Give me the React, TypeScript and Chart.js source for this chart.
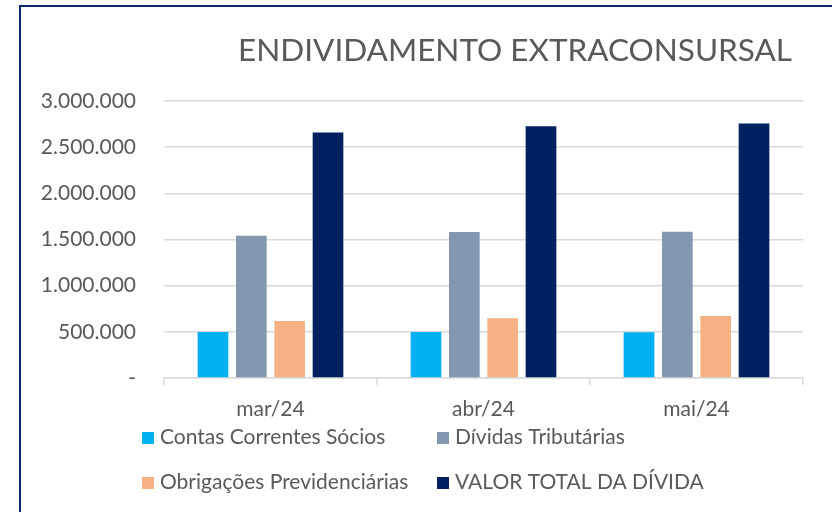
import React, { useEffect, useRef } from 'react';
import { Chart, registerables } from 'chart.js';

Chart.register(...registerables);

const chartTitle = 'ENDIVIDAMENTO EXTRACONSURSAL';
const categories = ['mar/24', 'abr/24', 'mai/24'];
const seriesNames = [
  'Contas Correntes Sócios',
  'Dívidas Tributárias',
  'Obrigações Previdenciárias',
  'VALOR TOTAL DA DÍVIDA',
];
const contasCorrentes = [498000, 498000, 495000];
const dividasTributarias = [1540000, 1581000, 1585000];
const obrigacoesPrevidenciarias = [617000, 646000, 671000];
const valorTotal = [2660000, 2727000, 2756000];
const seriesColors = ['#00B0F0', '#8497B0', '#F4B183', '#002060'];
const yMin = 0;
const yMax = 3000000;
const yStep = 500000;

const FONT = 'Lato, "Open Sans", sans-serif';
const TEXT = '#595959';
const GRID = '#D9D9D9';

function fmt(v: number): string {
  if (v === 0) return '-';
  return String(Math.round(v)).replace(/\B(?=(\d{3})+(?!\d))/g, '.');
}

const overlayPlugin = {
  id: 'overlay',
  afterDraw(chart: any) {
    const { ctx, chartArea } = chart;
    ctx.save();
    ctx.fillStyle = TEXT;
    ctx.font = `31.5px ${FONT}`;
    ctx.textAlign = 'right';
    ctx.textBaseline = 'alphabetic';
    ctx.fillText(chartTitle, chartArea.right - 11, 61);

    ctx.font = `21px ${FONT}`;
    ctx.textAlign = 'left';
    const colX = [chartArea.left - 22, chartArea.left + 273];
    const rowY = [chartArea.bottom + 66, chartArea.bottom + 111];
    chart.data.datasets.forEach((ds: any, i: number) => {
      const x = colX[i % 2];
      const y = rowY[Math.floor(i / 2)];
      ctx.fillStyle = ds.backgroundColor;
      ctx.fillRect(x, y - 12, 12, 12);
      ctx.fillStyle = TEXT;
      ctx.fillText(ds.label, x + 18, y);
    });
    ctx.restore();
  },
};

export default function App() {
  const ref = useRef<HTMLCanvasElement | null>(null);

  useEffect(() => {
    document.body.style.margin = '0';
    if (!ref.current) return;
    Chart.defaults.font.family = FONT;
    const values = [contasCorrentes, dividasTributarias, obrigacoesPrevidenciarias, valorTotal];
    const chart = new Chart(ref.current, {
      type: 'bar',
      data: {
        labels: categories,
        datasets: values.map((d, i) => ({
          label: seriesNames[i],
          data: d,
          backgroundColor: seriesColors[i],
          borderWidth: 0,
          categoryPercentage: 0.72,
          barPercentage: 0.8,
        })),
      },
      options: {
        responsive: false,
        animation: false,
        layout: { padding: { left: 0, right: 29, top: 101, bottom: 84 } },
        plugins: {
          legend: { display: false },
          title: { display: false },
          tooltip: { enabled: false },
        },
        scales: {
          x: {
            grid: {
              offset: true,
              drawOnChartArea: false,
              drawTicks: true,
              tickLength: 7,
              color: GRID,
              lineWidth: 1.5,
            },
            border: { display: true, color: GRID, width: 1.5 },
            ticks: { color: TEXT, font: { size: 21, family: FONT }, padding: 12 },
            afterFit: (scale: any) => {
              scale.height = 50;
            },
          },
          y: {
            min: yMin,
            max: yMax,
            ticks: {
              stepSize: yStep,
              color: TEXT,
              font: { size: 21, family: FONT },
              padding: 28,
              callback: (v: any) => fmt(Number(v)),
            },
            grid: { color: GRID, lineWidth: 1.5, drawTicks: false },
            border: { display: false },
            afterFit: (scale: any) => {
              scale.width = 164;
            },
          },
        },
      },
      plugins: [overlayPlugin],
    });
    return () => chart.destroy();
  }, []);

  return (
    <div style={{ position: 'relative', width: 832, height: 512, background: '#fff', overflow: 'hidden' }}>
      <canvas ref={ref} width={832} height={512} style={{ display: 'block', width: 832, height: 512 }} />
      <div
        style={{
          position: 'absolute',
          left: 19,
          top: 5,
          width: 813,
          height: 507,
          borderTop: '2px solid #0D2B6B',
          borderLeft: '2px solid #0D2B6B',
          boxSizing: 'border-box',
          pointerEvents: 'none',
        }}
      />
    </div>
  );
}
